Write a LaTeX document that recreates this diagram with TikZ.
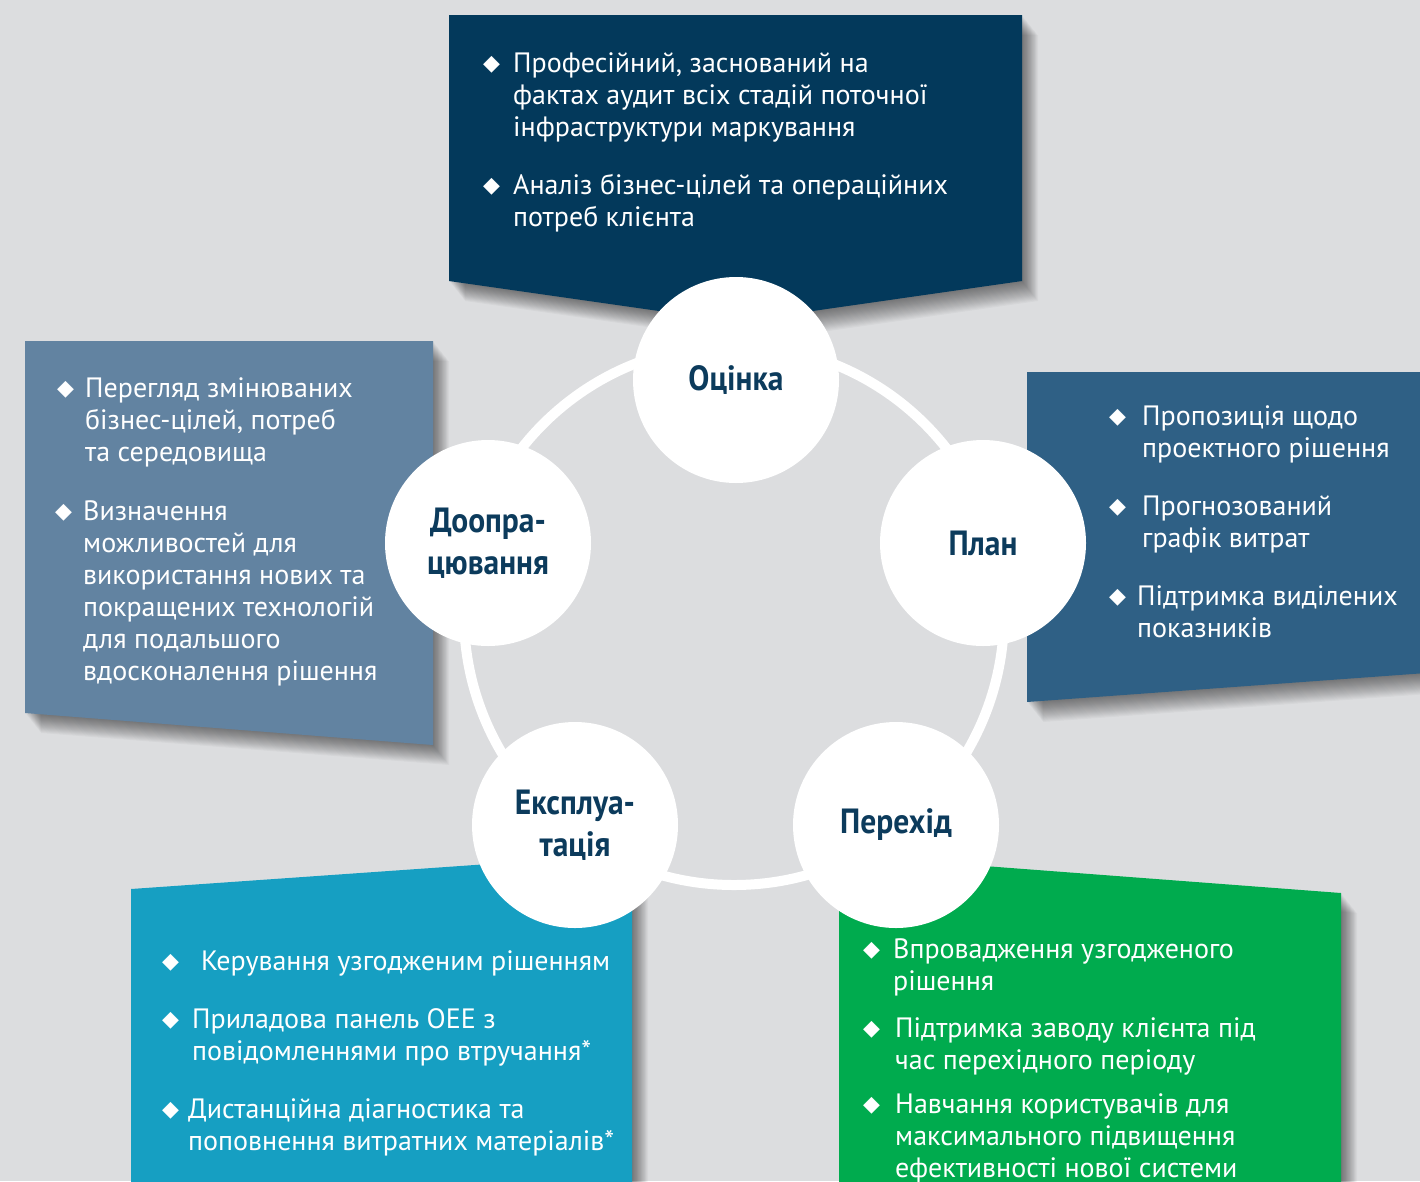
\documentclass[tikz,border=0pt]{standalone}
\usepackage{fontspec}
\setmainfont{PT Sans}
\newfontfamily\stagefont{PT Sans Bold}[FakeStretch=0.9]
\newfontfamily\symfont{DejaVu Sans}

\definecolor{bggray}{RGB}{220,221,223}
\definecolor{navybox}{RGB}{3,57,91}
\definecolor{steelbox}{RGB}{98,131,161}
\definecolor{bluebox}{RGB}{47,96,133}
\definecolor{cyanbox}{RGB}{22,159,194}
\definecolor{greenbox}{RGB}{0,171,78}
\definecolor{labelnavy}{RGB}{12,59,92}

\newcommand{\bul}{\raisebox{2.5pt}{\fontsize{22}{22}\selectfont\symfont ◆}}
\newcommand{\bitem}[2]{\begin{tabular}[t]{@{}l@{}l@{}}\makebox[#1][l]{\bul}&\begin{tabular}[t]{@{}l@{}}#2\end{tabular}\end{tabular}}

% box outlines
\newcommand{\navyshape}{(449,15) -- (1022,15) -- (1022,281) -- (736,322) -- (449,281) -- cycle}
\newcommand{\steelshape}{(25,341) -- (433,341) -- (433,745) -- (25,713) -- cycle}
\newcommand{\blueshape}{(1027,372) -- (1440,372) -- (1440,672) -- (1027,702) -- cycle}
\newcommand{\cyanshape}{(131,889) -- (632,854) -- (632,1200) -- (131,1200) -- cycle}
\newcommand{\greenshape}{(839,855) -- (1341,893) -- (1341,1200) -- (839,1200) -- cycle}

\begin{document}
\begin{tikzpicture}[x=1pt,y=-1pt,
    shade layer/.style={black,opacity=0.028},
    stage/.style={circle,fill=white,minimum size=206pt,inner sep=0pt,align=center,
      text=labelnavy,font=\stagefont\fontsize{35}{42}\selectfont},
    itemtext/.style={anchor=north west,inner sep=0pt,text=white,font=\fontsize{28}{32}\selectfont}]
  \useasboundingbox (0,0) rectangle (1420,1181);
  \clip (0,0) rectangle (1420,1181);
  \fill[bggray] (0,0) rectangle (1420,1181);

  % soft shadows
  \foreach \s in {1,...,20}{
    \fill[shade layer,shift={(0.8*\s,\s)}] \navyshape;
    \fill[shade layer,shift={(0.8*\s,\s)}] \steelshape;
    \fill[shade layer,shift={(0.8*\s,\s)}] \blueshape;
    \fill[shade layer,shift={(0.8*\s,\s)}] \cyanshape;
    \fill[shade layer,shift={(0.8*\s,\s)}] \greenshape;
  }

  % boxes
  \fill[navybox] \navyshape;
  \fill[steelbox] \steelshape;
  \fill[bluebox] \blueshape;
  \fill[cyanbox] \cyanshape;
  \fill[greenbox] \greenshape;

  % ring
  \draw[white,line width=10pt] (734,615) circle [radius=270];

  % stages
  \node[stage] (assess) at (736,380) {Оцінка};
  \node[stage] (plan) at (983,543) {План};
  \node[stage] (transit) at (896,825) {Перехід};
  \node[stage] (operate) at (575,825) {Експлуа-\\тація};
  \node[stage] (refine) at (488,543) {Доопра-\\цювання};

  % texts
  \node[itemtext] (assessA) at (483,50) {\bitem{30pt}{Професійний, заснований на\\фактах аудит всіх стадій поточної\\інфраструктури маркування}};
  \node[itemtext] (assessB) at (483,172) {\bitem{30pt}{Аналіз бізнес-цілей та операційних\\потреб клієнта}};

  \node[itemtext] (refineA) at (57,375) {\bitem{28pt}{Перегляд змінюваних\\бізнес-цілей, потреб\\та середовища}};
  \node[itemtext] (refineB) at (55,498) {\bitem{28pt}{Визначення\\можливостей для\\використання нових та\\покращених технологій\\для подальшого\\вдосконалення рішення}};

  \node[itemtext] (planA) at (1109,403) {\bitem{33pt}{Пропозиція щодо\\проектного рішення}};
  \node[itemtext] (planB) at (1109,493) {\bitem{33pt}{Прогнозований\\графік витрат}};
  \node[itemtext] (planC) at (1109,583) {\bitem{28pt}{Підтримка виділених\\показників}};

  \node[itemtext] (operateA) at (162,948) {\bitem{39pt}{Керування узгодженим рішенням}};
  \node[itemtext] (operateB) at (162,1006) {\bitem{30pt}{Приладова панель OEE з\\повідомленнями про втручання*}};
  \node[itemtext] (operateC) at (162,1096) {\bitem{26pt}{Дистанційна діагностика та\\поповнення витратних матеріалів*}};

  \node[itemtext] (transitA) at (863,936) {\bitem{30pt}{Впровадження узгодженого\\рішення}};
  \node[itemtext] (transitB) at (863,1015) {\bitem{32pt}{Підтримка заводу клієнта під\\час перехідного періоду}};
  \node[itemtext] (transitC) at (863,1091) {\bitem{32pt}{Навчання користувачів для\\максимального підвищення\\ефективності нової системи}};
\end{tikzpicture}
\end{document}
